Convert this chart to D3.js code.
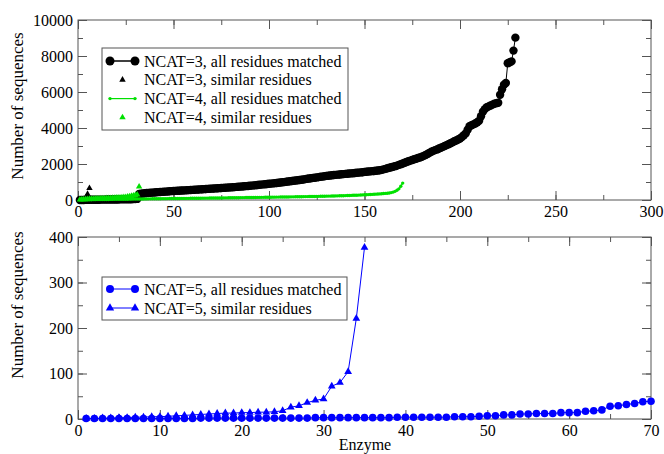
<!DOCTYPE html>
<html>
<head>
<meta charset="utf-8">
<script src="https://cdn.jsdelivr.net/npm/d3@7"></script>
<style>
  body { margin: 0; background: #fff; }
  svg text { font-family: "Liberation Serif", "DejaVu Serif", serif !important; }
</style>
</head>
<body>
<svg id="chart" width="664" height="454"></svg>
<script>
// enzyme index is position in array + 1
const ncat3All = [
  0,0,0,5,5,10,10,10,15,15,
  15,20,20,20,25,25,25,30,30,30,
  30,35,35,35,40,40,45,45,50,50,60,
  330,345,360,375,385,395,405,412,420,
  428,436,444,452,460,468,476,484,492,500,
  506,512,518,524,530,536,542,548,554,560,
  567,574,581,588,595,602,609,616,623,630,
  637,644,651,658,665,672,679,686,693,700,
  709,718,727,736,745,754,763,772,781,790,
  801,812,823,834,845,856,867,878,889,900,
  912,921,935,948,956,970,984,995,1010,1030,
  1042,1055,1068,1080,1096,1110,1125,1138,1160,1180,
  1195,1210,1228,1240,1255,1270,1288,1300,1320,1340,
  1350,1362,1375,1385,1398,1408,1418,1428,1440,1450,
  1460,1470,1480,1490,1500,1510,1520,1532,1545,1560,
  1570,1580,1590,1602,1615,1628,1640,1655,1675,1700,
  1730,1760,1790,1820,1850,1880,1910,1950,1990,2030,
  2070,2110,2150,2190,2220,2260,2290,2330,2360,2400,
  2450,2500,2560,2620,2680,2730,2770,2810,2860,2900,
  2950,3000,3050,3100,3150,3200,3260,3310,3360,3420,
  3500,3600,3700,3900,4100,4150,4200,4250,4320,4400,
  4650,4900,5050,5150,5200,5250,5300,5350,5380,5400,
  5850,6150,6400,6500,7600,7650,7700,8300,9020
];
const ncat3Similar = [10, 25, 50, 120, 330, 660];
const ncat4All = [
  10,10,12,14,15,16,18,20,20,22,
  24,25,26,28,30,30,32,34,35,36,
  38,40,40,42,44,45,46,48,50,52,
  54,55,56,58,60,62,64,65,66,68,
  70,71,72,74,75,76,78,80,81,82,
  84,85,86,88,89,90,92,93,94,96,
  97,98,100,101,102,104,105,106,108,110,
  111,112,114,115,116,118,119,120,122,124,
  125,126,128,129,130,132,134,135,136,138,
  140,141,142,144,145,147,148,150,152,154,
  155,157,158,160,162,164,165,167,169,170,
  172,174,176,178,180,182,184,186,188,190,
  192,194,196,198,200,203,206,208,210,213,
  216,218,221,224,227,230,233,236,240,244,
  248,252,256,260,264,268,272,277,282,288,
  294,300,306,312,318,325,332,340,348,357,
  366,378,392,410,440,480,540,620,760,940
];
const ncat4Similar = [
  20,30,35,40,50,55,60,60,65,70,
  75,80,85,90,95,100,100,110,115,120,
  125,130,140,150,160,180,200,220,240,260,
  300,740
];
const ncat5All = [
  1,1,1,1,1,1,1,1,1,1,
  1,1,1,1,2,2,2,2,2,2,
  2,2,2,2,2,2,2,2,3,3,
  3,3,3,3,3,3,3,3,4,4,
  4,4,4,4,4,5,5,5,6,7,
  7,9,9,11,11,12,12,12,14,14,
  14,17,18,20,28,29,32,34,38,39
];
const ncat5Similar = [
  1,1,2,2,3,3,4,4,5,5,
  6,7,8,9,10,11,12,13,13,14,
  14,15,15,16,18,26,29,36,41,44,
  72,80,104,221,377
];

const topXTicks = [0, 50, 100, 150, 200, 250, 300];
const topYTicks = [0, 2000, 4000, 6000, 8000, 10000];
const botXTicks = [0, 10, 20, 30, 40, 50, 60, 70];
const botYTicks = [0, 100, 200, 300, 400];

const topLegend = ["NCAT=3, all residues matched", "NCAT=3, similar residues",
                   "NCAT=4, all residues matched", "NCAT=4, similar residues"];
const botLegend = ["NCAT=5, all residues matched", "NCAT=5, similar residues"];

const svg = d3.select("#chart");
const frameColor = "#555";
const fontFam = '"Liberation Serif", "DejaVu Serif", serif';

function toPoints(arr) { return arr.map((v, i) => [i + 1, v]); }

function makePanel(cfg) {
  const x = d3.scaleLinear().domain(cfg.xDomain).range([cfg.left, cfg.right]);
  const y = d3.scaleLinear().domain(cfg.yDomain).range([cfg.bottom, cfg.top]);
  const g = svg.append("g");

  const xMinor = d3.range(cfg.xDomain[0], cfg.xDomain[1] + 0.001, cfg.xMinorStep);
  const yMinor = d3.range(cfg.yDomain[0], cfg.yDomain[1] + 0.001, cfg.yMinorStep);
  const fmt = d3.format("d");

  const axes = [
    [d3.axisBottom(x).tickValues(cfg.xTicks).tickSize(-9).tickPadding(6).tickFormat(fmt), `translate(0,${cfg.bottom})`, true],
    [d3.axisBottom(x).tickValues(xMinor).tickSize(-5).tickFormat(""), `translate(0,${cfg.bottom})`],
    [d3.axisTop(x).tickValues(cfg.xTicks).tickSize(-9).tickFormat(""), `translate(0,${cfg.top})`],
    [d3.axisTop(x).tickValues(xMinor).tickSize(-5).tickFormat(""), `translate(0,${cfg.top})`],
    [d3.axisLeft(y).tickValues(cfg.yTicks).tickSize(-9).tickPadding(5).tickFormat(fmt), `translate(${cfg.left},0)`, true],
    [d3.axisLeft(y).tickValues(yMinor).tickSize(-5).tickFormat(""), `translate(${cfg.left},0)`],
    [d3.axisRight(y).tickValues(cfg.yTicks).tickSize(-9).tickFormat(""), `translate(${cfg.right},0)`],
    [d3.axisRight(y).tickValues(yMinor).tickSize(-5).tickFormat(""), `translate(${cfg.right},0)`]
  ];
  axes.forEach(([ax, tr, labelled]) => {
    const a = g.append("g").attr("transform", tr).call(ax);
    a.attr("font-family", fontFam);
    a.select(".domain").remove();
    a.selectAll("line").attr("stroke", frameColor);
    if (labelled) a.selectAll("text").attr("font-size", 16).attr("fill", "#000");
  });

  g.append("rect")
    .attr("x", cfg.left).attr("y", cfg.top)
    .attr("width", cfg.right - cfg.left).attr("height", cfg.bottom - cfg.top)
    .attr("fill", "none").attr("stroke", frameColor).attr("stroke-width", 1);

  g.append("text")
    .attr("transform", `translate(${cfg.yLabelX},${cfg.yLabelY}) rotate(-90)`)
    .attr("text-anchor", "middle").attr("font-size", 17)
    .attr("font-family", fontFam)
    .text("Number of sequences");

  return { x, y, g };
}

function drawLine(p, data, color, width) {
  p.g.append("path").datum(data)
    .attr("fill", "none").attr("stroke", color).attr("stroke-width", width)
    .attr("d", d3.line().x(d => p.x(d[0])).y(d => p.y(d[1])));
}
function drawCircles(p, data, color, r) {
  p.g.append("g").selectAll("circle").data(data).join("circle")
    .attr("cx", d => p.x(d[0])).attr("cy", d => p.y(d[1])).attr("r", r)
    .attr("fill", color);
}
function drawTriangles(p, data, color, size) {
  const sym = d3.symbol().type(d3.symbolTriangle).size(size);
  p.g.append("g").selectAll("path").data(data).join("path")
    .attr("transform", d => `translate(${p.x(d[0])},${p.y(d[1])})`)
    .attr("d", sym).attr("fill", color);
}

// ---------- top panel ----------
const topPanel = makePanel({
  xDomain: [0, 300], yDomain: [0, 10000],
  left: 78, right: 651, top: 20, bottom: 200,
  xTicks: topXTicks, yTicks: topYTicks, xMinorStep: 25, yMinorStep: 1000,
  yLabelX: 23, yLabelY: 106
});

const p3a = toPoints(ncat3All);
drawLine(topPanel, p3a, "#000", 1);
drawCircles(topPanel, p3a, "#000", 4.2);
drawTriangles(topPanel, toPoints(ncat3Similar), "#000", 18);
const p4a = toPoints(ncat4All);
drawLine(topPanel, p4a, "#00e000", 1.3);
drawCircles(topPanel, p4a, "#00e000", 1.7);
drawTriangles(topPanel, toPoints(ncat4Similar), "#00e000", 18);

// ---------- bottom panel ----------
const botPanel = makePanel({
  xDomain: [0, 70], yDomain: [0, 400],
  left: 78, right: 651, top: 237, bottom: 419,
  xTicks: botXTicks, yTicks: botYTicks, xMinorStep: 5, yMinorStep: 50,
  yLabelX: 23, yLabelY: 305
});

const p5a = toPoints(ncat5All);
drawLine(botPanel, p5a, "#0000ff", 1);
drawCircles(botPanel, p5a, "#0000ff", 3.8);
const p5s = toPoints(ncat5Similar);
drawLine(botPanel, p5s, "#0000ff", 1);
drawTriangles(botPanel, p5s, "#0000ff", 26);

svg.append("text")
  .attr("x", 365).attr("y", 450)
  .attr("text-anchor", "middle").attr("font-size", 16)
  .attr("font-family", fontFam)
  .text("Enzyme");

// ---------- legends ----------
function legend(box, rows) {
  const g = svg.append("g");
  g.append("rect").attr("x", box.x).attr("y", box.y)
    .attr("width", box.w).attr("height", box.h)
    .attr("fill", "#fff").attr("stroke", frameColor).attr("stroke-width", 1);
  rows.forEach((r, i) => {
    const cy = box.y + box.first + i * box.step;
    const x1 = box.x + 8, x2 = box.x + 33, xm = (x1 + x2) / 2;
    if (r.line) g.append("line").attr("x1", x1).attr("x2", x2).attr("y1", cy).attr("y2", cy)
      .attr("stroke", r.color).attr("stroke-width", r.lw || 1);
    const xs = r.line ? [x1, x2] : [xm];
    xs.forEach(sx => {
      if (r.shape === "circle") g.append("circle").attr("cx", sx).attr("cy", cy)
        .attr("r", r.r).attr("fill", r.color);
      else g.append("path").attr("transform", `translate(${sx},${cy})`)
        .attr("d", d3.symbol().type(d3.symbolTriangle).size(r.size)).attr("fill", r.color);
    });
    g.append("text").attr("x", box.x + 42).attr("y", cy + 5.5)
      .attr("font-size", 16).attr("font-family", fontFam).text(r.label);
  });
}

legend({ x: 102, y: 48, w: 246, h: 82, first: 13, step: 18.8 }, [
  { label: topLegend[0], color: "#000", shape: "circle", r: 4.5, line: true, lw: 1.5 },
  { label: topLegend[1], color: "#000", shape: "tri", size: 18 },
  { label: topLegend[2], color: "#00e000", shape: "circle", r: 1.7, line: true, lw: 1.2 },
  { label: topLegend[3], color: "#00e000", shape: "tri", size: 18 }
]);
legend({ x: 102, y: 277, w: 245, h: 43, first: 12, step: 19 }, [
  { label: botLegend[0], color: "#0000ff", shape: "circle", r: 4, line: true },
  { label: botLegend[1], color: "#0000ff", shape: "tri", size: 30, line: true }
]);
</script>
</body>
</html>
